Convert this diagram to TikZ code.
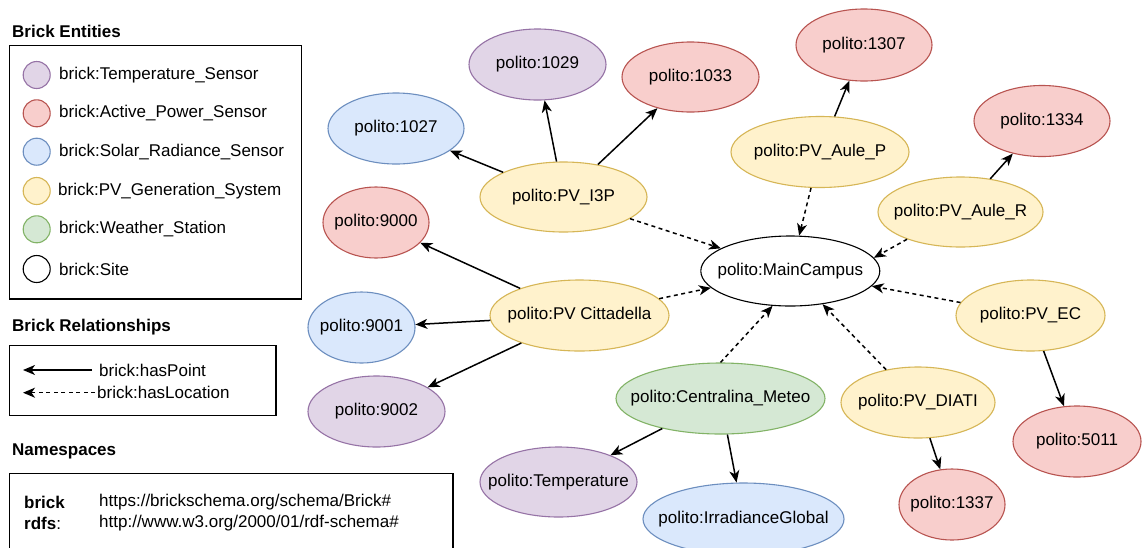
\documentclass[tikz,border=0pt]{standalone}
\usepackage{fontspec}
\setmainfont{Liberation Sans}
\usetikzlibrary{shapes.geometric,arrows.meta}
\definecolor{purF}{HTML}{E1D5E7}\definecolor{purD}{HTML}{9673A6}
\definecolor{redF}{HTML}{F8CECC}\definecolor{redD}{HTML}{B85450}
\definecolor{bluF}{HTML}{DAE8FC}\definecolor{bluD}{HTML}{6C8EBF}
\definecolor{yelF}{HTML}{FFF2CC}\definecolor{yelD}{HTML}{D6B656}
\definecolor{grnF}{HTML}{D5E8D4}\definecolor{grnD}{HTML}{82B366}
\newcommand\zt[1]{\makebox[0pt]{#1}}
\tikzset{
  ent/.style={ellipse, draw, line width=1.1pt, inner sep=0pt},
  tsens/.style={ent, fill=purF, draw=purD},
  apow/.style={ent, fill=redF, draw=redD},
  solar/.style={ent, fill=bluF, draw=bluD},
  pvg/.style={ent, fill=yelF, draw=yelD},
  wst/.style={ent, fill=grnF, draw=grnD},
  site/.style={ent, fill=white, draw=black},
  sz/.style 2 args={minimum width=#1pt, minimum height=#2pt},
  haspt/.style={line width=1.5pt, -{Stealth[length=12pt,width=10pt,inset=3.5pt]}},
  hasloc/.style={haspt, dash pattern=on 4pt off 3.5pt},
  lbl/.style={anchor=west, inner sep=0pt},
  ttl/.style={anchor=west, inner sep=0pt, font=\fontsize{17}{20}\selectfont\bfseries},
  legbox/.style={draw, line width=1.1pt}
}
\begin{document}
\begin{tikzpicture}[x=1pt, y=-1pt, font=\fontsize{17}{20}\selectfont]
\useasboundingbox (0,0) rectangle (1142,547);
\fill[white] (0,0) rectangle (1142,547);

% ---------- Legend: entities ----------
\node[ttl] (tEnt) at (12,31) {Brick Entities};
\draw[legbox] (9.3,45.7) rectangle (301.7,299);
\node[tsens, circle, minimum size=27pt] (c1) at (36.7,75) {};
\node[lbl] (l1) at (59,75) {brick:Temperature\_Sensor};
\node[apow, circle, minimum size=27pt] (c2) at (36.7,113.3) {};
\node[lbl] (l2) at (59,113.3) {brick:Active\_Power\_Sensor};
\node[solar, circle, minimum size=27pt] (c3) at (36.7,151.7) {};
\node[lbl] (l3) at (59,151.7) {brick:Solar\_Radiance\_Sensor};
\node[pvg, circle, minimum size=27pt] (c4) at (36.7,191) {};
\node[lbl] (l4) at (58,191) {brick:PV\_Generation\_System};
\node[wst, circle, minimum size=27pt] (c5) at (36.7,229.3) {};
\node[lbl] (l5) at (59,229.3) {brick:Weather\_Station};
\node[site, circle, minimum size=27pt] (c6) at (36.7,269) {};
\node[lbl] (l6) at (59,269) {brick:Site};

% ---------- Legend: relationships ----------
\node[ttl] (tRel) at (12,327) {Brick Relationships};
\draw[legbox] (9.3,345.7) rectangle (276,415.7);
\coordinate (hpA) at (92,370);
\coordinate (hpB) at (23,370);
\draw[haspt] (hpA) -- (hpB);
\node[lbl] (lhp) at (99,370) {brick:hasPoint};
\coordinate (hlA) at (95,392.7);
\coordinate (hlB) at (23,392.7);
\draw[hasloc] (hlA) -- (hlB);
\node[lbl] (lhl) at (97,392.7) {brick:hasLocation};

% ---------- Legend: namespaces ----------
\node[ttl] (tNs) at (12,451.7) {Namespaces};
\draw[legbox] (9.3,560) -- (9.3,473.3) -- (453,473.3) -- (453,560);
\node[lbl, font=\fontsize{17}{20}\selectfont\bfseries] (nsb) at (24,502) {brick};
\node[lbl] (nsbu) at (99,502) {https://brickschema.org/schema/Brick\#};
\node[lbl] (nsr) at (24,523) {\textbf{rdfs}:};
\node[lbl] (nsru) at (99,523) {http://www.w3.org/2000/01/rdf-schema\#};

% ---------- Graph nodes ----------
\node[site, sz={179}{70}] (mc) at (790.3,271) {\zt{polito:MainCampus}};

\node[pvg, sz={167}{70}] (i3p) at (563.5,197) {\zt{polito:PV\_I3P}};
\node[tsens, sz={137}{71}] (n1029) at (537.5,64.5) {\zt{polito:1029}};
\node[solar, sz={136}{71}] (n1027) at (396,128.5) {\zt{polito:1027}};
\node[apow, sz={137}{70}] (n1033) at (690.5,77) {\zt{polito:1033}};

\node[pvg, sz={179}{71}] (citt) at (579.5,315.5) {\zt{polito:PV Cittadella}};
\node[apow, sz={106}{71}] (n9000) at (376,222.5) {\zt{polito:9000}};
\node[solar, sz={107}{71}] (n9001) at (361.5,327.5) {\zt{polito:9001}};
\node[tsens, sz={137}{71}] (n9002) at (376.5,411.5) {\zt{polito:9002}};

\node[pvg, sz={178}{71}] (aulep) at (820,152) {\zt{polito:PV\_Aule\_P}};
\node[apow, sz={136}{72}] (n1307) at (864,45) {\zt{polito:1307}};

\node[pvg, sz={165}{70}] (auler) at (960.5,212) {\zt{polito:PV\_Aule\_R}};
\node[apow, sz={136}{71}] (n1334) at (1042,121) {\zt{polito:1334}};

\node[pvg, sz={149}{71}] (ec) at (1030.5,315.5) {\zt{polito:PV\_EC}};
\node[apow, sz={128}{71}] (n5011) at (1077,441.5) {\zt{polito:5011}};

\node[pvg, sz={154}{71}] (diati) at (918,402.5) {\zt{polito:PV\_DIATI}};
\node[apow, sz={106}{71}] (n1337) at (952,504.5) {\zt{polito:1337}};

\node[wst, sz={209}{71}] (meteo) at (720.5,398.5) {\zt{polito:Centralina\_Meteo}};
\node[tsens, sz={157}{70}] (temp) at (558.5,482) {\zt{polito:Temperature}};
\node[solar, sz={201}{72}] (irr) at (743.5,519) {\zt{polito:IrradianceGlobal}};

% ---------- hasPoint ----------
\draw[haspt] (i3p) -- (n1029);
\draw[haspt] (i3p) -- (n1027);
\draw[haspt] (i3p) -- (n1033);
\draw[haspt] (citt) -- (n9000);
\draw[haspt] (citt) -- (n9001);
\draw[haspt] (citt) -- (n9002);
\draw[haspt] (aulep) -- (n1307);
\draw[haspt] (auler) -- (n1334);
\draw[haspt] (ec) -- (n5011);
\draw[haspt] (diati) -- (n1337);
\draw[haspt] (meteo) -- (temp);
\draw[haspt] (meteo) -- (irr);

% ---------- hasLocation ----------
\draw[hasloc] (i3p) -- (mc);
\draw[hasloc] (citt) -- (mc);
\draw[hasloc] (aulep) -- (mc);
\draw[hasloc] (auler.207) -- (mc.9);
\draw[hasloc] (ec) -- (mc);
\draw[hasloc] (diati) -- (mc);
\draw[hasloc] (meteo.north) -- (mc.243);
\end{tikzpicture}
\end{document}
